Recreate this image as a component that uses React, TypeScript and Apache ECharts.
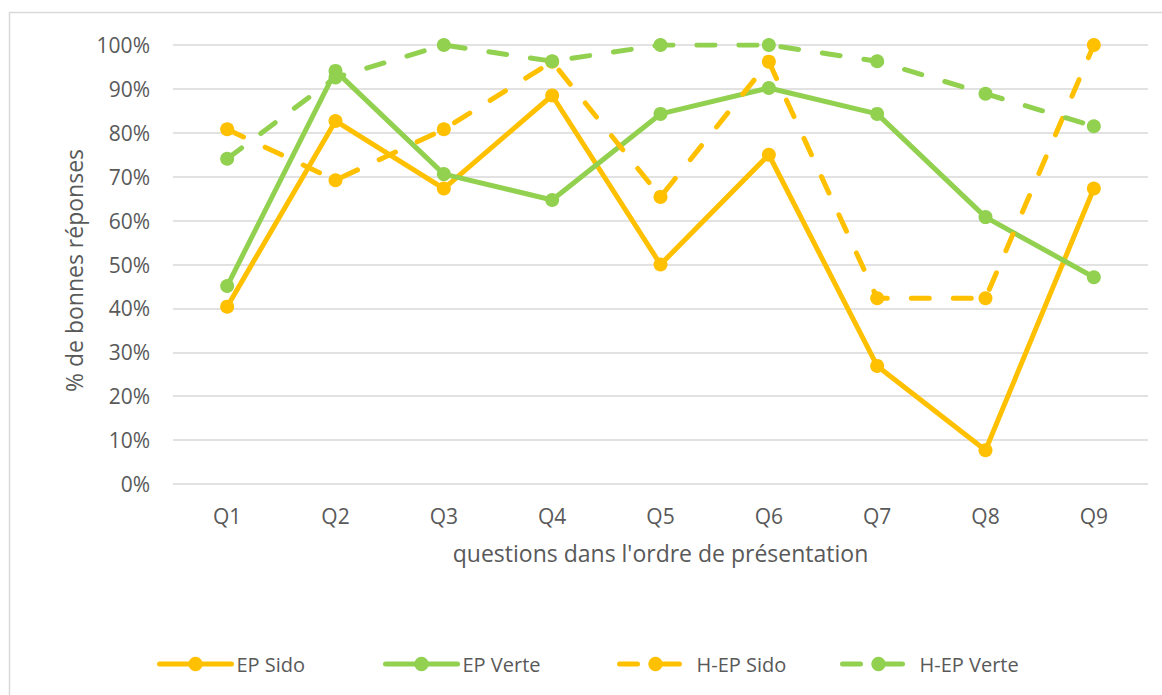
import React, { useEffect, useRef } from "react";
import * as echarts from "echarts";

// Questions in the order they were presented
const questions = ["Q1", "Q2", "Q3", "Q4", "Q5", "Q6", "Q7", "Q8", "Q9"];

// Share of correct answers per question (0–1)
const epSido = [0.404, 0.827, 0.673, 0.885, 0.5, 0.75, 0.269, 0.077, 0.673];
const epVerte = [0.451, 0.941, 0.706, 0.647, 0.843, 0.902, 0.843, 0.608, 0.471];
const hepSido = [0.808, 0.692, 0.808, 0.962, 0.654, 0.962, 0.423, 0.423, 1.0];
const hepVerte = [0.741, 0.926, 1.0, 0.963, 1.0, 1.0, 0.963, 0.889, 0.815];

const ORANGE = "#FFC000";
const GREEN = "#92D050";
const TEXT = "#595959";
const FONT = "'Open Sans', 'Noto Sans', sans-serif";

const seriesDefs = [
  { name: "EP Sido", data: epSido, color: ORANGE, dashed: false },
  { name: "EP Verte", data: epVerte, color: GREEN, dashed: false },
  { name: "H-EP Sido", data: hepSido, color: ORANGE, dashed: true },
  { name: "H-EP Verte", data: hepVerte, color: GREEN, dashed: true },
];

// left edge of each legend entry's line sample
const legendLefts = [157, 383, 617, 840];

export default function App() {
  const ref = useRef<HTMLDivElement>(null);

  useEffect(() => {
    document.body.style.margin = "0";
    const chart = echarts.init(ref.current!, null, { renderer: "svg" });
    chart.setOption({
      animation: false,
      backgroundColor: "#ffffff",
      graphic: [
        {
          type: "rect",
          shape: { x: 9.5, y: 12.5, width: 1200, height: 800 },
          style: { fill: "none", stroke: "#d9d9d9", lineWidth: 1.5 },
          silent: true,
          z: -10,
        },
      ],
      grid: { left: 173, right: 14, top: 45, bottom: 211 },
      legend: seriesDefs.map((s, i) => ({
        data: [s.name],
        left: legendLefts[i] - 5,
        top: 649,
        itemWidth: 72,
        itemHeight: 18,
        itemGap: 6,
        lineStyle: { width: 5, cap: "round" },
        textStyle: { color: TEXT, fontSize: 20, fontFamily: FONT },
      })),
      xAxis: {
        type: "category",
        data: questions,
        boundaryGap: true,
        axisLine: { show: false },
        axisTick: { show: false },
        axisLabel: {
          color: TEXT,
          fontSize: 21,
          fontFamily: FONT,
          margin: 21,
        },
        name: "questions dans l'ordre de présentation",
        nameLocation: "middle",
        nameGap: 57,
        nameTextStyle: { color: TEXT, fontSize: 23, fontFamily: FONT },
      },
      yAxis: {
        type: "value",
        min: 0,
        max: 1,
        interval: 0.1,
        axisLine: { show: false },
        axisTick: { show: false },
        splitLine: { lineStyle: { color: "#d9d9d9", width: 1.5 } },
        axisLabel: {
          color: TEXT,
          fontSize: 21,
          fontFamily: FONT,
          margin: 23,
          formatter: (v: number) => `${Math.round(v * 100)}%`,
        },
        name: "% de bonnes réponses",
        nameLocation: "middle",
        nameGap: 86,
        nameRotate: 90,
        nameTextStyle: {
          color: TEXT,
          fontSize: 23,
          fontFamily: FONT,
          padding: [0, 12, 0, 0],
        },
      },
      series: seriesDefs.map((s) => ({
        name: s.name,
        type: "line",
        data: s.data,
        symbol: "circle",
        symbolSize: 14,
        showSymbol: true,
        color: s.color,
        itemStyle: { color: s.color },
        lineStyle: {
          color: s.color,
          width: 5,
          type: s.dashed ? [18, 24] : "solid",
          cap: "round",
          join: "round",
        },
      })),
    });
    return () => chart.dispose();
  }, []);

  return <div ref={ref} style={{ width: 1162, height: 695 }} />;
}
